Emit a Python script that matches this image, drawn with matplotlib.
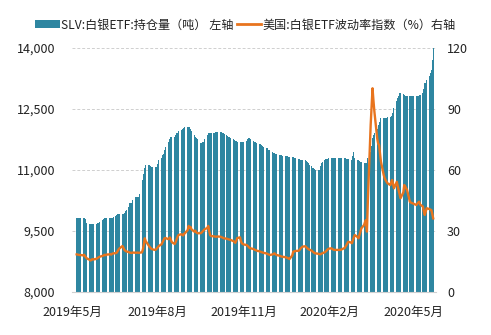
import matplotlib
matplotlib.use("Agg")
import matplotlib.pyplot as plt
import matplotlib.dates as mdates
from matplotlib.patches import Patch
from matplotlib.lines import Line2D
import pandas as pd

plt.rcParams['font.family'] = ['Noto Sans CJK SC', 'DejaVu Sans']

# trading days (Mon-Fri), 55 weeks
dates = pd.bdate_range('2019-05-06', '2020-05-22')

# SLV silver ETF holdings (tonnes), one row per week
holdings = [
    9830, 9830, 9830, 9830, 9830,
    9830, 9830, 9800, 9720, 9700,
    9680, 9675, 9672, 9672, 9675,
    9680, 9690, 9700, 9730, 9730,
    9780, 9800, 9810, 9812, 9812,
    9812, 9812, 9820, 9830, 9837,
    9880, 9900, 9910, 9910, 9910,
    9920, 9930, 9950, 9980, 10016,
    10100, 10180, 10180, 10200, 10250,
    10328, 10328, 10330, 10340, 10400,
    10600, 10754, 10900, 11050, 11123,
    11123, 11120, 11100, 11082, 11082,
    11082, 11082, 11082, 11150, 11246,
    11300, 11369, 11400, 11500, 11573,
    11696, 11750, 11804, 11810, 11820,
    11820, 11850, 11900, 11919, 11950,
    11984, 12000, 12025, 12040, 12050,
    12060, 12050, 12050, 12000, 11950,
    11861, 11800, 11779, 11750, 11700,
    11672, 11672, 11690, 11696, 11750,
    11861, 11900, 11919, 11919, 11919,
    11919, 11919, 11930, 11935, 11943,
    11943, 11940, 11920, 11900, 11885,
    11860, 11840, 11820, 11810, 11790,
    11760, 11738, 11720, 11710, 11700,
    11696, 11696, 11696, 11696, 11696,
    11720, 11750, 11779, 11779, 11760,
    11720, 11700, 11696, 11680, 11660,
    11640, 11630, 11610, 11590, 11573,
    11550, 11530, 11510, 11492, 11480,
    11450, 11430, 11410, 11400, 11390,
    11380, 11369, 11360, 11355, 11350,
    11344, 11340, 11335, 11330, 11328,
    11320, 11310, 11300, 11290, 11287,
    11270, 11260, 11250, 11246, 11246,
    11246, 11230, 11200, 11160, 11123,
    11100, 11060, 11041, 11020, 11000,
    11000, 11000, 11100, 11164, 11200,
    11246, 11260, 11270, 11280, 11287,
    11287, 11287, 11287, 11287, 11287,
    11287, 11287, 11287, 11287, 11287,
    11287, 11287, 11280, 11270, 11260,
    11246, 11246, 11350, 11451, 11300,
    11246, 11240, 11220, 11200, 11189,
    11180, 11170, 11164, 11164, 11300,
    11451, 11600, 11779, 11850, 11902,
    12000, 12100, 12188, 12230, 12271,
    12271, 12280, 12287, 12290, 12300,
    12312, 12320, 12400, 12517, 12600,
    12700, 12763, 12830, 12886, 12886,
    12860, 12840, 12827, 12827, 12827,
    12827, 12827, 12827, 12827, 12827,
    12827, 12827, 12827, 12845, 12850,
    12886, 13000, 13132, 13150, 13213,
    13300, 13378, 13459, 13705, 13993,
]

# US silver ETF volatility index (%), one row per week
volatility = [
    18.5, 18.4, 18.3, 18.2, 18.2,
    18.0, 18.3, 17.6, 17.0, 16.5,
    15.8, 15.5, 15.9, 16.2, 16.0,
    16.3, 16.6, 16.9, 17.2, 17.4,
    17.8, 18.0, 18.3, 18.1, 18.4,
    18.5, 18.6, 18.4, 18.8, 19.0,
    19.1, 19.4, 20.2, 21.0, 21.5,
    22.6, 21.8, 20.8, 20.3, 20.0,
    19.6, 19.3, 19.3, 19.2, 19.4,
    19.3, 19.3, 19.4, 19.3, 19.3,
    19.5, 21.0, 23.5, 26.4, 25.0,
    23.0, 22.3, 21.8, 21.3, 21.0,
    20.7, 20.9, 21.5, 22.0, 22.6,
    23.5, 24.5, 25.5, 26.4, 26.6,
    26.0, 26.4, 26.8, 25.5, 24.5,
    23.6, 24.5, 25.8, 27.0, 28.0,
    28.4, 28.2, 27.8, 28.5, 28.9,
    30.5, 32.5, 31.5, 32.0, 30.8,
    29.7, 30.2, 29.5, 29.0, 28.9,
    28.9, 29.3, 29.8, 30.3, 30.8,
    31.5, 32.5, 30.0, 28.0, 27.5,
    27.4, 27.3, 27.2, 27.2, 27.3,
    27.2, 27.0, 26.8, 26.6, 26.4,
    26.2, 26.0, 25.9, 25.7, 25.6,
    25.0, 24.6, 24.2, 25.2, 26.5,
    26.9, 25.0, 24.0, 23.6, 23.4,
    23.1, 22.8, 22.3, 21.8, 21.5,
    21.2, 21.0, 20.7, 20.6, 20.3,
    20.0, 19.8, 19.6, 19.5, 19.3,
    19.0, 18.8, 18.6, 18.4, 18.2,
    18.5, 18.8, 19.0, 18.6, 18.2,
    17.9, 17.7, 17.5, 17.4, 17.3,
    17.1, 16.9, 16.7, 16.5, 16.2,
    18.0, 19.8, 20.0, 20.1, 20.2,
    20.3, 20.8, 21.5, 21.9, 22.3,
    22.5, 22.0, 21.6, 21.2, 20.9,
    20.3, 19.8, 19.5, 19.1, 19.0,
    18.8, 18.6, 18.5, 18.8, 19.0,
    19.6, 20.0, 20.5, 21.0, 21.3,
    21.5, 21.1, 20.9, 20.7, 20.7,
    20.7, 20.7, 20.7, 20.7, 21.0,
    21.6, 22.3, 23.0, 24.0, 24.7,
    24.3, 24.0, 25.5, 27.0, 28.0,
    27.0, 26.4, 28.0, 29.5, 31.3,
    33.0, 34.5, 35.4, 29.7, 45.0,
    82.1, 91.0, 100.2, 94.0, 88.7,
    75.6, 73.0, 72.3, 68.0, 64.1,
    57.5, 56.0, 55.0, 54.2, 53.5,
    52.6, 54.0, 55.1, 53.0, 51.0,
    54.2, 52.0, 50.0, 48.0, 46.1,
    49.0, 52.6, 52.0, 51.0, 50.2,
    44.4, 44.0, 43.8, 43.6, 43.4,
    42.8, 43.5, 44.0, 44.4, 43.0,
    42.0, 39.5, 37.9, 39.5, 41.2,
    40.8, 40.5, 40.3, 38.5, 36.2,
]

x_ticks = ['2019-05-01', '2019-08-01', '2019-11-01', '2020-02-01', '2020-05-01']
x_labels = ['2019年5月', '2019年8月', '2019年11月', '2020年2月', '2020年5月']
left_ticks = [8000, 9500, 11000, 12500, 14000]
right_ticks = [0, 30, 60, 90, 120]
legend_labels = ['SLV:白银ETF:持仓量（吨） 左轴', '美国:白银ETF波动率指数（%）右轴']

bar_color = '#2E86A1'
line_color = '#E8741E'
text_color = '#222222'

fig = plt.figure(figsize=(4.91, 3.35), dpi=100)
ax = fig.add_axes([72/491, 1-292/335, (436-72)/491, (292-48)/335])

ax.bar(dates, holdings, width=1.0, color=bar_color, linewidth=0, bottom=0, zorder=2)
ax.set_ylim(8000, 14000)
ax.set_xlim(pd.Timestamp('2019-05-01'), pd.Timestamp('2020-05-25'))
ax.set_yticks(left_ticks)
ax.set_yticklabels([f'{v:,}' for v in left_ticks])
ax.set_xticks([pd.Timestamp(t) for t in x_ticks])
ax.set_xticklabels(x_labels)
ax.set_axisbelow(True)
ax.yaxis.grid(True, color='#CFCFCF', linestyle=(0, (3, 2)), linewidth=0.7)

for s in ['top', 'right', 'left']:
    ax.spines[s].set_visible(False)
ax.spines['bottom'].set_color('#D0D0D0')
ax.spines['bottom'].set_linewidth(0.8)
ax.tick_params(axis='both', length=0, labelsize=9, colors=text_color)
ax.tick_params(axis='y', pad=12)
ax.tick_params(axis='x', pad=10)

ax2 = ax.twinx()
ax2.plot(dates, volatility, color=line_color, linewidth=1.7, zorder=3)
ax2.set_ylim(0, 120)
ax2.set_yticks(right_ticks)
for s in ax2.spines.values():
    s.set_visible(False)
ax2.tick_params(axis='y', length=0, labelsize=9, colors=text_color, pad=8)

handles = [Patch(facecolor=bar_color, edgecolor='none'),
           Line2D([0], [0], color=line_color, linewidth=2)]
fig.legend(handles, legend_labels, loc='center', bbox_to_anchor=(0.5, 1-25/335),
           ncol=2, frameon=False, fontsize=8.7, handlelength=2.0, handleheight=0.6,
           handletextpad=0.1, columnspacing=0.3, labelcolor=text_color)

fig.savefig('out.png', dpi=100)
